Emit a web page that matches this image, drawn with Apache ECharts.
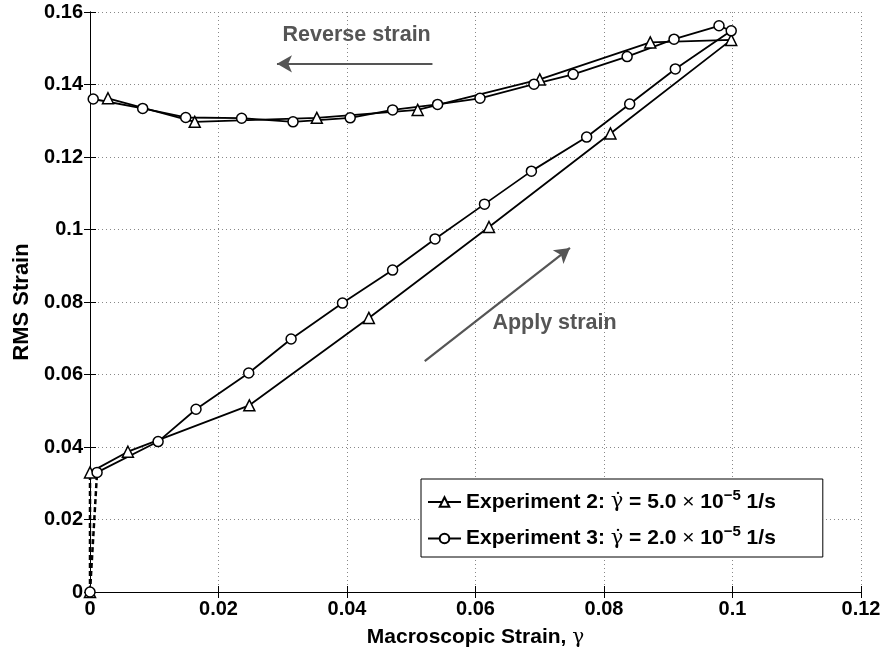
<!DOCTYPE html>
<html><head><meta charset="utf-8">
<script src="https://cdn.jsdelivr.net/npm/echarts@6/dist/echarts.min.js"></script>
<style>html,body{margin:0;padding:0;background:#fff}#c{width:884px;height:650px}</style>
</head><body><div id="c"></div>
<script>
// Experiment 2 (triangles): first point is the origin, joined by a dashed segment
const exp2X = [0, 0.0000, 0.0059, 0.0248, 0.0434, 0.0621, 0.0810, 0.0998, 0.0872, 0.0700, 0.0510, 0.0353, 0.0163, 0.0028];
const exp2Y = [0, 0.0330, 0.0387, 0.0515, 0.0756, 0.1007, 0.1265, 0.1523, 0.1516, 0.1414, 0.1330, 0.1308, 0.1297, 0.1362];
// Experiment 3 (circles)
const exp3X = [0, 0.0011, 0.0106, 0.0165, 0.0247, 0.0313, 0.0393, 0.0471, 0.0537, 0.0614, 0.0687, 0.0773, 0.0840, 0.0911, 0.0998,
               0.0979, 0.0909, 0.0836, 0.0752, 0.0691, 0.0607, 0.0541, 0.0471, 0.0405, 0.0316, 0.0236, 0.0149, 0.0082, 0.0005];
const exp3Y = [0, 0.0330, 0.0415, 0.0504, 0.0604, 0.0698, 0.0797, 0.0888, 0.0974, 0.1070, 0.1161, 0.1255, 0.1346, 0.1443, 0.1548,
               0.1562, 0.1525, 0.1477, 0.1428, 0.1401, 0.1362, 0.1345, 0.1330, 0.1308, 0.1297, 0.1307, 0.1309, 0.1334, 0.1360];
const xTicks = [0, 0.02, 0.04, 0.06, 0.08, 0.1, 0.12];
const yTicks = [0, 0.02, 0.04, 0.06, 0.08, 0.1, 0.12, 0.14, 0.16];
const seriesNames = ['Experiment 2', 'Experiment 3'];
const legendTexts = ['Experiment 2: {g|γ̇} = 5.0 {x|×} 10{sup|−5} 1/s', 'Experiment 3: {g|γ̇} = 2.0 {x|×} 10{sup|−5} 1/s'];
// annotations (data coordinates)
const reverseArrow = [[0.0533, 0.1457], [0.0291, 0.1457]];
const applyArrow = [[0.0521, 0.0637], [0.0747, 0.0949]];
const reverseLabel = [0.0415, 0.1537, 'Reverse strain'];
const applyLabel = [0.0723, 0.0742, 'Apply strain'];

const zip = (xs, ys) => xs.map((x, i) => [x, ys[i]]);
const e2 = zip(exp2X, exp2Y), e3 = zip(exp3X, exp3Y);
const FONT = '"Liberation Sans", Arial, Helvetica, sans-serif';
const SERIF = '"DejaVu Serif", "Liberation Serif", serif';
const markerStyle = {color: '#fff', borderColor: '#000', borderWidth: 1.5};
const fmt = v => (v === 0 ? '0' : String(+v.toFixed(2)));
const nameStyle = size => ({
  fontFamily: FONT, fontSize: size, fontWeight: 'bold', color: '#000',
  rich: {g: {fontFamily: SERIF, fontSize: size - 1, fontWeight: 'normal', color: '#000'}}
});

const chart = echarts.init(document.getElementById('c'));
chart.setOption({
  animation: false,
  textStyle: {fontFamily: FONT},
  grid: {left: 90, right: 23, top: 12, bottom: 58, outerBoundsMode: 'none', containLabel: false},
  xAxis: [{
    type: 'value', min: 0, max: 0.12, interval: 0.02,
    name: 'Macroscopic Strain, {g|γ}', nameLocation: 'middle', nameGap: 35,
    nameTextStyle: nameStyle(21),
    axisLine: {lineStyle: {color: '#000', width: 1}},
    axisTick: {inside: true, length: 6, lineStyle: {color: '#000'}},
    axisLabel: {fontFamily: FONT, fontSize: 20, fontWeight: 'bold', color: '#000', margin: 7, formatter: fmt},
    splitLine: {show: true, lineStyle: {type: [1, 3], color: '#888'}}
  }, {
    type: 'value', min: 0, max: 0.12, interval: 0.02, position: 'top',
    axisLine: {show: true, lineStyle: {color: '#000'}},
    axisTick: {inside: true, length: 6, lineStyle: {color: '#000'}},
    axisLabel: {show: false}, splitLine: {show: false}
  }],
  yAxis: [{
    type: 'value', min: 0, max: 0.16, interval: 0.02,
    name: 'RMS Strain', nameLocation: 'middle', nameGap: 55, nameRotate: 90,
    nameTextStyle: nameStyle(22),
    axisLine: {show: true, lineStyle: {color: '#000', width: 1}},
    axisTick: {show: true, inside: true, length: 6, lineStyle: {color: '#000'}},
    axisLabel: {fontFamily: FONT, fontSize: 20, fontWeight: 'bold', color: '#000', margin: 7, formatter: fmt},
    splitLine: {show: true, lineStyle: {type: [1, 3], color: '#888'}}
  }, {
    type: 'value', min: 0, max: 0.16, interval: 0.02, position: 'right',
    axisLine: {show: true, lineStyle: {color: '#000'}},
    axisTick: {show: true, inside: true, length: 6, lineStyle: {color: '#000'}},
    axisLabel: {show: false}, splitLine: {show: false}
  }],
  legend: {
    data: seriesNames, orient: 'vertical', left: 421, top: 479,
    backgroundColor: '#fff', borderColor: '#000', borderWidth: 1,
    padding: [9, 47, 8, 6], itemGap: 12, itemWidth: 33, itemHeight: 12,
    formatter: name => legendTexts[seriesNames.indexOf(name)],
    textStyle: {
      fontFamily: FONT, fontSize: 21, fontWeight: 'bold', color: '#000',
      rich: {
        g: {fontFamily: SERIF, fontSize: 21, fontWeight: 'normal', color: '#000'},
        sup: {fontFamily: FONT, fontSize: 15, fontWeight: 'bold', color: '#000', padding: [0, 0, 13, 0]},
        x: {fontFamily: FONT, fontSize: 21, fontWeight: 'normal', color: '#000'}
      }
    }
  },
  series: [
    {
      name: 'Experiment 2', type: 'line', data: e2.slice(1),
      symbol: 'triangle', symbolSize: 11, showAllSymbol: true,
      lineStyle: {color: '#000', width: 1.8}, itemStyle: markerStyle, z: 3
    },
    {
      name: 'Experiment 3', type: 'line', data: e3.slice(1),
      symbol: 'circle', symbolSize: 10, showAllSymbol: true,
      lineStyle: {color: '#000', width: 1.8}, itemStyle: markerStyle, z: 3
    },
    {
      name: 'e2dash', type: 'line', data: [{value: e2[0], symbol: 'triangle', symbolSize: 11}, {value: e2[1], symbol: 'none'}],
      lineStyle: {color: '#000', width: 2.5, type: [5, 3]}, itemStyle: markerStyle, z: 2
    },
    {
      name: 'e3dash', type: 'line', data: [{value: e3[0], symbol: 'circle', symbolSize: 10}, {value: e3[1], symbol: 'none'}],
      lineStyle: {color: '#000', width: 2.5, type: [5, 3]}, itemStyle: markerStyle, z: 2
    },
    {
      name: 'annot', type: 'line', data: [], silent: true,
      markLine: {
        silent: true, symbol: ['none', 'arrow'], symbolSize: [13, 15],
        lineStyle: {color: '#555', width: 2.2, type: 'solid'}, label: {show: false},
        data: [
          [{coord: reverseArrow[0]}, {coord: reverseArrow[1]}],
          [{coord: applyArrow[0]}, {coord: applyArrow[1]}]
        ]
      },
      markPoint: {
        silent: true, symbol: 'circle', symbolSize: 0,
        label: {show: true, position: 'inside', fontFamily: FONT, fontSize: 21.5, fontWeight: 'bold', color: '#555', formatter: p => p.name},
        data: [
          {name: reverseLabel[2], coord: [reverseLabel[0], reverseLabel[1]]},
          {name: applyLabel[2], coord: [applyLabel[0], applyLabel[1]]}
        ]
      }
    }
  ]
});
</script></body></html>
